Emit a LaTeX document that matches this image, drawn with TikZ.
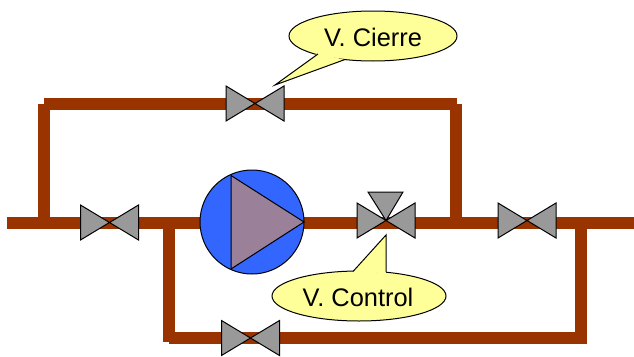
\documentclass[tikz,border=0pt]{standalone}
\usepackage{fontspec}
\usetikzlibrary{shapes.geometric}
\setmainfont{Liberation Sans}
\definecolor{pipe}{HTML}{993300}
\definecolor{valve}{HTML}{999999}
\definecolor{pumpblue}{HTML}{3366FF}
\definecolor{pumptri}{HTML}{9A8099}
\definecolor{note}{HTML}{FFFF99}
\tikzset{
  pipeline/.style={draw=pipe,line width=12pt,line cap=butt,line join=miter},
  outline/.style={draw=black,line width=1pt,line join=miter},
  bowtie/.pic={\path[outline,fill=valve] (-29,-17.5) -- (29,17.5) -- (29,-17.5) -- (-29,17.5) -- cycle;},
  notetext/.style={font=\fontsize{25.4pt}{28pt}\selectfont,inner sep=0pt,text=black},
  noteshape/.style={outline,fill=note},
}
\begin{document}
\begin{tikzpicture}[x=1pt,y=-1pt]
\useasboundingbox (0,0) rectangle (634,356);
% named points of the pipe network
\coordinate (inlet) at (7,223);
\coordinate (outlet) at (634,223);
\coordinate (riserL) at (44,223);
\coordinate (riserLtop) at (44,104);
\coordinate (topstart) at (44,104);
\coordinate (topend) at (457,104);
\coordinate (riserR) at (456,223);
\coordinate (riserRtop) at (456,104);
\coordinate (dropL) at (169,223);
\coordinate (dropLbot) at (169,342);
\coordinate (botstart) at (169,338);
\coordinate (botend) at (587,338);
\coordinate (dropR) at (581,223);
\coordinate (dropRbot) at (581,344);
% pipes
\draw[pipeline] (inlet) -- (outlet);
\draw[pipeline] (riserL) -- (riserLtop);
\draw[pipeline] (topstart) -- (topend);
\draw[pipeline] (riserR) -- (riserRtop);
\draw[pipeline] (dropL) -- (dropLbot);
\draw[pipeline] (botstart) -- (botend);
\draw[pipeline] (dropR) -- (dropRbot);
% valves
\pic at (109.5,222.5) {bowtie};
\pic at (255,103.5) {bowtie};
\pic at (527,220.5) {bowtie};
\pic at (250.5,338) {bowtie};
\pic at (386,220.5) {bowtie};
\path[outline,fill=valve] (368,192) -- (403,192) -- (386,220.5) -- cycle;
% pump
\node[draw=black,line width=1pt,fill=pumpblue,circle,minimum size=104pt,inner sep=0pt] (pump) at (252,222) {};
\path[outline,fill=pumptri] (231,175.5) -- (231,269) -- (304,222) -- cycle;
% callouts
\node[noteshape,ellipse,minimum width=168pt,minimum height=50pt,inner sep=0pt] (cierre) at (373,36) {};
\path[fill=note] (318,53) -- (275,85) -- (345,60) -- cycle;
\draw[outline] (318,54) -- (275,85) -- (345,59.5);
\node[notetext,yshift=-1pt] at (cierre.center) {V. Cierre};
\node[noteshape,ellipse,minimum width=174pt,minimum height=50pt,inner sep=0pt] (control) at (359,296) {};
\path[fill=note] (353,272) -- (386,235) -- (386,273) -- cycle;
\draw[outline] (353,271.5) -- (386,235) -- (386,272);
\node[notetext,xshift=-1pt,yshift=-1pt] at (control.center) {V. Control};
\end{tikzpicture}
\end{document}
